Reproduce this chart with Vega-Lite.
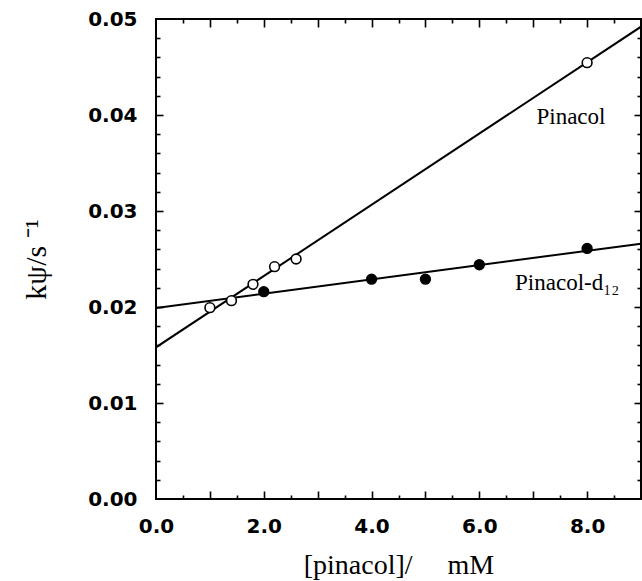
{
  "$schema": "https://vega.github.io/schema/vega-lite/v6.json",
  "width": 485,
  "height": 480,
  "autosize": {"type": "none"},
  "padding": {"left": 156, "top": 19, "right": 1, "bottom": 82},
  "background": "white",
  "config": {
    "view": {"stroke": "black", "strokeWidth": 2},
    "axis": {
      "domain": false,
      "grid": false,
      "tickColor": "black",
      "tickWidth": 1.6,
      "labelColor": "black",
      "labelFont": "DejaVu Sans",
      "labelFontWeight": "bold",
      "labelFontSize": 20,
      "labelOverlap": false,
      "labelFlush": false,
      "labelBound": false,
      "titleFont": "Liberation Serif",
      "titleFontWeight": "normal",
      "titleFontSize": 28,
      "titleColor": "black"
    }
  },
  "datasets": {
    "points": [
      {"series": "Pinacol", "conc": 1.0, "k": 0.01993},
      {"series": "Pinacol", "conc": 1.4, "k": 0.02066},
      {"series": "Pinacol", "conc": 1.8, "k": 0.02236},
      {"series": "Pinacol", "conc": 2.2, "k": 0.0242},
      {"series": "Pinacol", "conc": 2.6, "k": 0.0250},
      {"series": "Pinacol", "conc": 8.0, "k": 0.04545},
      {"series": "Pinacol-d12", "conc": 2.0, "k": 0.0216},
      {"series": "Pinacol-d12", "conc": 4.0, "k": 0.0229},
      {"series": "Pinacol-d12", "conc": 5.0, "k": 0.0229},
      {"series": "Pinacol-d12", "conc": 6.0, "k": 0.0244},
      {"series": "Pinacol-d12", "conc": 8.0, "k": 0.0261}
    ],
    "fits": [
      {"series": "Pinacol", "conc": 0, "k": 0.0158},
      {"series": "Pinacol", "conc": 9, "k": 0.0492},
      {"series": "Pinacol-d12", "conc": 0, "k": 0.0199},
      {"series": "Pinacol-d12", "conc": 9, "k": 0.0266}
    ],
    "labels": [
      {"text": "Pinacol", "conc": 7.7, "k": 0.0398},
      {"text": "Pinacol-d₁₂", "conc": 7.63, "k": 0.0225}
    ]
  },
  "resolve": {"axis": {"x": "independent", "y": "independent"}},
  "layer": [
    {
      "data": {"name": "fits"},
      "mark": {"type": "line", "color": "black", "strokeWidth": 2, "clip": true},
      "encoding": {
        "x": {
          "field": "conc", "type": "quantitative",
          "scale": {"domain": [0, 9], "nice": false, "zero": false},
          "axis": {
            "orient": "bottom",
            "title": "[pinacol]/\u00a0\u00a0\u00a0\u00a0\u00a0mM",
            "titlePadding": 15,
            "values": [0, 2, 4, 6, 8],
            "format": ".1f",
            "ticks": false,
            "labelPadding": 17
          }
        },
        "y": {
          "field": "k", "type": "quantitative",
          "scale": {"domain": [0, 0.05], "nice": false, "zero": false},
          "axis": {
            "orient": "left",
            "title": "kψ/s\u00a0⁻¹",
            "titleFontSize": 30,
            "titlePadding": 36,
            "values": [0, 0.01, 0.02, 0.03, 0.04, 0.05],
            "format": ".2f",
            "ticks": false,
            "labelPadding": 19
          }
        },
        "detail": {"field": "series"}
      }
    },
    {
      "data": {"name": "points"},
      "mark": {"type": "point", "shape": "circle", "size": 95, "strokeWidth": 1.6, "opacity": 1},
      "encoding": {
        "x": {
          "field": "conc", "type": "quantitative",
          "axis": {"orient": "top", "offset": -480, "title": null, "labels": false, "values": [1, 2, 3, 4, 5, 6, 7, 8], "tickSize": 8}
        },
        "y": {
          "field": "k", "type": "quantitative",
          "axis": {"orient": "right", "offset": -485, "title": null, "labels": false, "values": [0.01, 0.02, 0.03, 0.04], "tickSize": 7}
        },
        "stroke": {"value": "black"},
        "fill": {
          "field": "series", "type": "nominal",
          "scale": {"domain": ["Pinacol", "Pinacol-d12"], "range": ["white", "black"]},
          "legend": null
        }
      }
    },
    {
      "data": {"name": "labels"},
      "mark": {"type": "text", "font": "Liberation Serif", "fontSize": 23, "color": "black", "baseline": "middle", "align": "center"},
      "encoding": {
        "x": {
          "field": "conc", "type": "quantitative",
          "axis": {"orient": "top", "offset": -480, "title": null, "labels": false, "values": [0.5, 1.5, 2.5, 3.5, 4.5, 5.5, 6.5, 7.5, 8.5], "tickSize": 4}
        },
        "y": {
          "field": "k", "type": "quantitative",
          "axis": {"orient": "right", "offset": -485, "title": null, "labels": false, "values": [0.002, 0.004, 0.006, 0.008, 0.012, 0.014, 0.016, 0.018, 0.022, 0.024, 0.026, 0.028, 0.032, 0.034, 0.036, 0.038, 0.042, 0.044, 0.046, 0.048], "tickSize": 4}
        },
        "text": {"field": "text"}
      }
    },
    {
      "data": {"name": "fits"},
      "mark": {"type": "line", "strokeOpacity": 0, "clip": true},
      "encoding": {
        "x": {
          "field": "conc", "type": "quantitative",
          "axis": {"orient": "bottom", "offset": -480, "title": null, "labels": false, "values": [1, 2, 3, 4, 5, 6, 7, 8], "tickSize": 8}
        },
        "y": {
          "field": "k", "type": "quantitative",
          "axis": {"orient": "left", "offset": -485, "title": null, "labels": false, "values": [0.01, 0.02, 0.03, 0.04], "tickSize": 7}
        },
        "detail": {"field": "series"}
      }
    },
    {
      "data": {"name": "fits"},
      "mark": {"type": "line", "strokeOpacity": 0, "clip": true},
      "encoding": {
        "x": {
          "field": "conc", "type": "quantitative",
          "axis": {"orient": "bottom", "offset": -480, "title": null, "labels": false, "values": [0.5, 1.5, 2.5, 3.5, 4.5, 5.5, 6.5, 7.5, 8.5], "tickSize": 4}
        },
        "y": {
          "field": "k", "type": "quantitative",
          "axis": {"orient": "left", "offset": -485, "title": null, "labels": false, "values": [0.002, 0.004, 0.006, 0.008, 0.012, 0.014, 0.016, 0.018, 0.022, 0.024, 0.026, 0.028, 0.032, 0.034, 0.036, 0.038, 0.042, 0.044, 0.046, 0.048], "tickSize": 4}
        },
        "detail": {"field": "series"}
      }
    }
  ]
}
